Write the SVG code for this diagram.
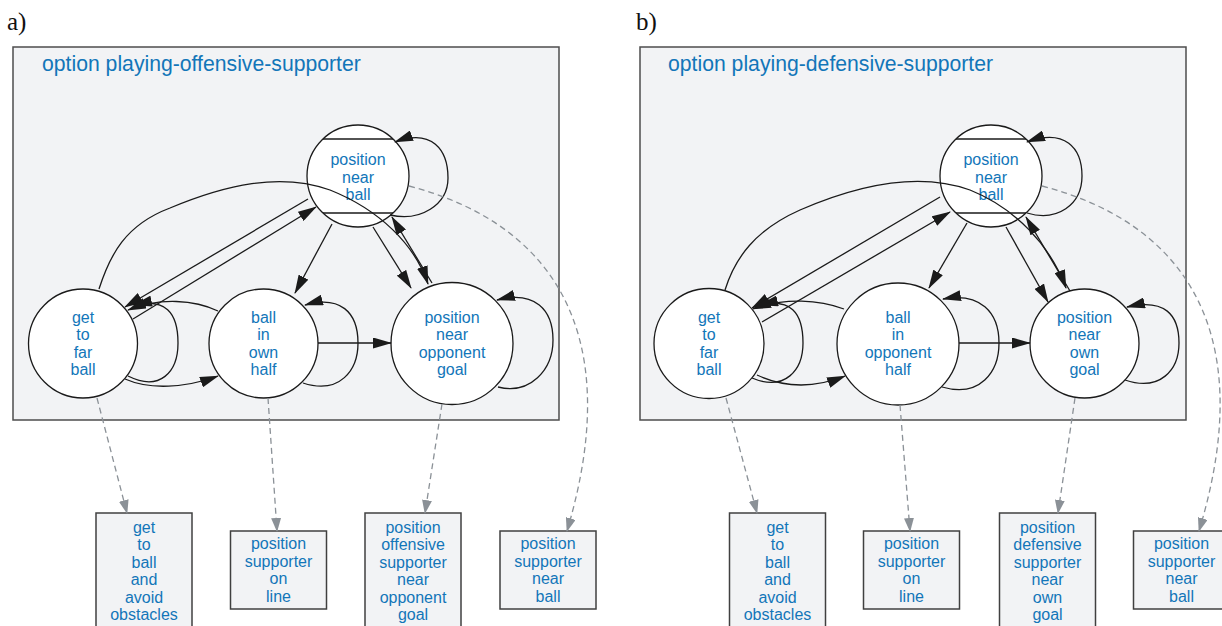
<svg xmlns="http://www.w3.org/2000/svg" width="1222" height="626" viewBox="0 0 1222 626">
  <style>
    .panel { fill: #f2f3f5; stroke: #4d4d4d; stroke-width: 1.5; }
    .box { fill: #f2f3f5; stroke: #404040; stroke-width: 1.5; }
    .state { fill: #ffffff; stroke: #1a1a1a; stroke-width: 1.3; }
    .bar { stroke: #1a1a1a; stroke-width: 1.3; }
    .lbl { font-family: "Liberation Sans", Arial, sans-serif; font-size: 16px; fill: #1276b9; text-anchor: middle; }
    .title { font-family: "Liberation Sans", Arial, sans-serif; font-size: 21.2px; fill: #1276b9; }
    .tag { font-family: "Liberation Serif", "Times New Roman", serif; font-size: 25px; fill: #111; }
    .edge { fill: none; stroke: #1a1a1a; stroke-width: 1.3; marker-end: url(#ah); }
    .ref { fill: none; stroke: #8b9197; stroke-width: 1.3; stroke-dasharray: 6 4; marker-end: url(#ahg); }
  </style>
  <defs>
    <marker id="ah" viewBox="0 0 19 11" refX="18" refY="5.5" markerWidth="19" markerHeight="11" markerUnits="userSpaceOnUse" orient="auto">
      <path d="M0,0 L19,5.5 L0,11 z" fill="#1a1a1a"/>
    </marker>
    <marker id="ahg" viewBox="0 0 14 10" refX="13" refY="5" markerWidth="14" markerHeight="10" markerUnits="userSpaceOnUse" orient="auto">
      <path d="M0,0 L14,5 L0,10 z" fill="#8b9197"/>
    </marker>
  </defs>

  <!-- ===== panel a: offensive supporter ===== -->
  <text class="tag" x="7" y="30">a)</text>
  <g id="option-offensive">
    <rect class="panel" x="13" y="47" width="546" height="373"/>
    <text class="title" x="42" y="71">option playing-offensive-supporter</text>
  </g>

  <g id="a-position-near-ball">
    <circle class="state" cx="358" cy="176" r="51"/>
    <line class="bar" x1="323" y1="139" x2="393" y2="139"/>
    <line class="bar" x1="323" y1="213" x2="393" y2="213"/>
    <text class="lbl" x="358" y="165">position</text>
    <text class="lbl" x="358" y="182.5">near</text>
    <text class="lbl" x="358" y="200">ball</text>
  </g>
  <g id="a-get-to-far-ball">
    <circle class="state" cx="83" cy="343.5" r="54.5"/>
    <text class="lbl" x="83" y="322.8">get</text>
    <text class="lbl" x="83" y="340.3">to</text>
    <text class="lbl" x="83" y="357.8">far</text>
    <text class="lbl" x="83" y="375.3">ball</text>
  </g>
  <g id="a-ball-in-own-half">
    <circle class="state" cx="263.5" cy="343.5" r="54.5"/>
    <text class="lbl" x="263.5" y="322.8">ball</text>
    <text class="lbl" x="263.5" y="340.3">in</text>
    <text class="lbl" x="263.5" y="357.8">own</text>
    <text class="lbl" x="263.5" y="375.3">half</text>
  </g>
  <g id="a-position-near-opponent-goal">
    <circle class="state" cx="452" cy="343.5" r="61"/>
    <text class="lbl" x="452" y="322.8">position</text>
    <text class="lbl" x="452" y="340.3">near</text>
    <text class="lbl" x="452" y="357.8">opponent</text>
    <text class="lbl" x="452" y="375.3">goal</text>
  </g>

  <g id="a-get-to-ball-and-avoid-obstacles">
    <rect class="box" x="96" y="513" width="96" height="120"/>
    <text class="lbl" x="144" y="532.8">get</text>
    <text class="lbl" x="144" y="550.3">to</text>
    <text class="lbl" x="144" y="567.8">ball</text>
    <text class="lbl" x="144" y="585.3">and</text>
    <text class="lbl" x="144" y="602.8">avoid</text>
    <text class="lbl" x="144" y="620.3">obstacles</text>
  </g>
  <g id="a-position-supporter-on-line">
    <rect class="box" x="230.5" y="531" width="96" height="78"/>
    <text class="lbl" x="278.5" y="549.3">position</text>
    <text class="lbl" x="278.5" y="566.8">supporter</text>
    <text class="lbl" x="278.5" y="584.3">on</text>
    <text class="lbl" x="278.5" y="601.8">line</text>
  </g>
  <g id="a-position-offensive-supporter">
    <rect class="box" x="365" y="513" width="96" height="120"/>
    <text class="lbl" x="413" y="532.8">position</text>
    <text class="lbl" x="413" y="550.3">offensive</text>
    <text class="lbl" x="413" y="567.8">supporter</text>
    <text class="lbl" x="413" y="585.3">near</text>
    <text class="lbl" x="413" y="602.8">opponent</text>
    <text class="lbl" x="413" y="620.3">goal</text>
  </g>
  <g id="a-position-supporter-near-ball">
    <rect class="box" x="500" y="531" width="96" height="78"/>
    <text class="lbl" x="548" y="549.3">position</text>
    <text class="lbl" x="548" y="566.8">supporter</text>
    <text class="lbl" x="548" y="584.3">near</text>
    <text class="lbl" x="548" y="601.8">ball</text>
  </g>

  <g id="a-connectors">
    <path class="edge" d="M308,199 L125,307"/>
    <path class="edge" d="M133,319 L316,207"/>
    <path class="edge" d="M99,289 C110,255 125,225 170,208 C225,185 280,172 330,190 C380,210 415,245 428,284"/>
    <path class="edge" d="M432,283 L392,217"/>
    <path class="edge" d="M332,224 L295,293"/>
    <path class="edge" d="M373,227 L411,288"/>
    <path class="edge" d="M390,215 C420,222 448,205 448,178 C448,150 432,128 395,142"/>
    <path class="edge" d="M128,376 C160,392 178,372 178,343 C178,312 165,298 134,305"/>
    <path class="edge" d="M218,311 C195,300 160,297 128,310"/>
    <path class="edge" d="M125,379 C150,390 185,388 218,376"/>
    <path class="edge" d="M303,383 C340,395 358,370 358,343 C358,312 340,295 305,305"/>
    <path class="edge" d="M318,343 L391,343"/>
    <path class="edge" d="M498,387 C530,395 553,370 553,340 C553,310 535,290 497,300"/>
    <path class="ref" d="M97,398 L127,513"/>
    <path class="ref" d="M268,398 L277,531"/>
    <path class="ref" d="M442,404 L425,513"/>
    <path class="ref" d="M409,186 C540,220 630,320 567,531"/>
  </g>

  <!-- ===== panel b: defensive supporter ===== -->
  <text class="tag" x="636" y="30">b)</text>
  <g id="option-defensive">
    <rect class="panel" x="640" y="47" width="546" height="373"/>
    <text class="title" x="668" y="71">option playing-defensive-supporter</text>
  </g>

  <g id="b-position-near-ball">
    <circle class="state" cx="991" cy="176" r="51"/>
    <line class="bar" x1="956" y1="139" x2="1026" y2="139"/>
    <line class="bar" x1="956" y1="213" x2="1026" y2="213"/>
    <text class="lbl" x="991" y="165">position</text>
    <text class="lbl" x="991" y="182.5">near</text>
    <text class="lbl" x="991" y="200">ball</text>
  </g>
  <g id="b-get-to-far-ball">
    <circle class="state" cx="709" cy="343.5" r="55"/>
    <text class="lbl" x="709" y="322.8">get</text>
    <text class="lbl" x="709" y="340.3">to</text>
    <text class="lbl" x="709" y="357.8">far</text>
    <text class="lbl" x="709" y="375.3">ball</text>
  </g>
  <g id="b-ball-in-opponent-half">
    <circle class="state" cx="898" cy="344" r="61"/>
    <text class="lbl" x="898" y="322.8">ball</text>
    <text class="lbl" x="898" y="340.3">in</text>
    <text class="lbl" x="898" y="357.8">opponent</text>
    <text class="lbl" x="898" y="375.3">half</text>
  </g>
  <g id="b-position-near-own-goal">
    <circle class="state" cx="1084.5" cy="343.5" r="54.5"/>
    <text class="lbl" x="1084.5" y="322.8">position</text>
    <text class="lbl" x="1084.5" y="340.3">near</text>
    <text class="lbl" x="1084.5" y="357.8">own</text>
    <text class="lbl" x="1084.5" y="375.3">goal</text>
  </g>

  <g id="b-get-to-ball-and-avoid-obstacles">
    <rect class="box" x="729.5" y="513" width="96" height="120"/>
    <text class="lbl" x="777.5" y="532.8">get</text>
    <text class="lbl" x="777.5" y="550.3">to</text>
    <text class="lbl" x="777.5" y="567.8">ball</text>
    <text class="lbl" x="777.5" y="585.3">and</text>
    <text class="lbl" x="777.5" y="602.8">avoid</text>
    <text class="lbl" x="777.5" y="620.3">obstacles</text>
  </g>
  <g id="b-position-supporter-on-line">
    <rect class="box" x="863.5" y="531" width="96" height="78"/>
    <text class="lbl" x="911.5" y="549.3">position</text>
    <text class="lbl" x="911.5" y="566.8">supporter</text>
    <text class="lbl" x="911.5" y="584.3">on</text>
    <text class="lbl" x="911.5" y="601.8">line</text>
  </g>
  <g id="b-position-defensive-supporter">
    <rect class="box" x="999.5" y="513" width="96" height="120"/>
    <text class="lbl" x="1047.5" y="532.8">position</text>
    <text class="lbl" x="1047.5" y="550.3">defensive</text>
    <text class="lbl" x="1047.5" y="567.8">supporter</text>
    <text class="lbl" x="1047.5" y="585.3">near</text>
    <text class="lbl" x="1047.5" y="602.8">own</text>
    <text class="lbl" x="1047.5" y="620.3">goal</text>
  </g>
  <g id="b-position-supporter-near-ball">
    <rect class="box" x="1133.5" y="531" width="96" height="78"/>
    <text class="lbl" x="1181.5" y="549.3">position</text>
    <text class="lbl" x="1181.5" y="566.8">supporter</text>
    <text class="lbl" x="1181.5" y="584.3">near</text>
    <text class="lbl" x="1181.5" y="601.8">ball</text>
  </g>

  <g id="b-connectors">
    <path class="edge" d="M940,197 L752,308"/>
    <path class="edge" d="M762,322 L950,212"/>
    <path class="edge" d="M725,290 C735,258 755,230 800,210 C860,184 920,172 970,190 C1015,208 1050,245 1066,288"/>
    <path class="edge" d="M1070,291 L1026,217"/>
    <path class="edge" d="M967,223 L929,288"/>
    <path class="edge" d="M1006,227 L1048,302"/>
    <path class="edge" d="M1027,213 C1057,222 1082,205 1082,176 C1082,148 1065,128 1027,142"/>
    <path class="edge" d="M752,378 C785,392 803,370 803,343 C803,312 790,298 760,305"/>
    <path class="edge" d="M844,309 C820,300 785,297 753,309"/>
    <path class="edge" d="M757,375 C785,388 815,388 845,376"/>
    <path class="edge" d="M942,387 C980,398 999,372 999,343 C999,312 980,292 943,299"/>
    <path class="edge" d="M959,343 L1030,343"/>
    <path class="edge" d="M1125,380 C1160,392 1179,370 1179,343 C1179,315 1165,298 1127,307"/>
    <path class="ref" d="M726,398 L757,513"/>
    <path class="ref" d="M900,405 L910,531"/>
    <path class="ref" d="M1075,398 L1058,513"/>
    <path class="ref" d="M1042,186 C1173,220 1263,320 1199,531"/>
  </g>
</svg>
